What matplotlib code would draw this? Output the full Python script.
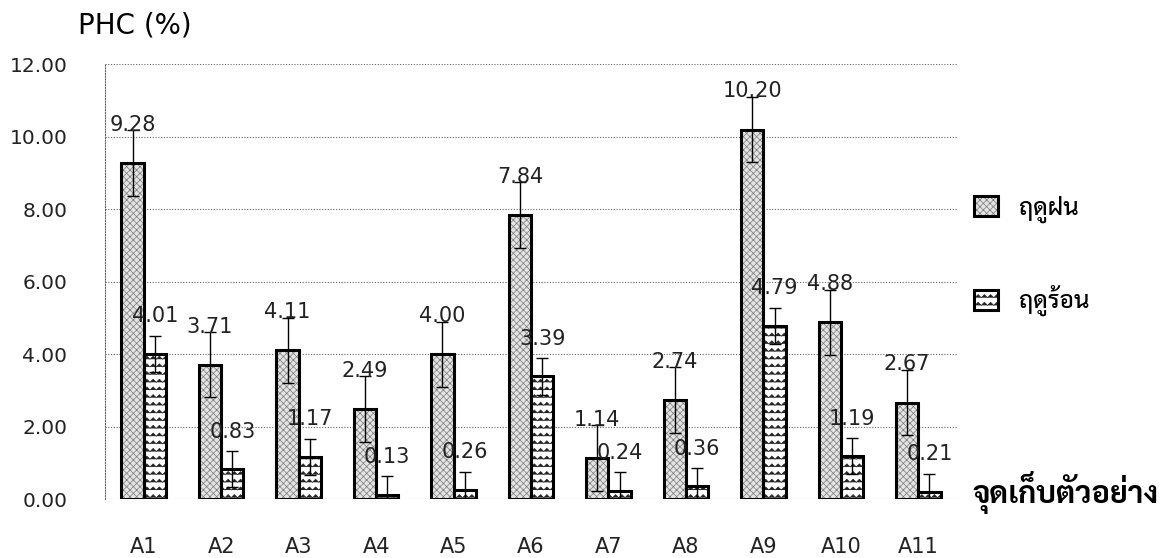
import warnings
import numpy as np
import matplotlib
matplotlib.use('Agg')
import matplotlib.pyplot as plt
from matplotlib import hatch as mhatch
from matplotlib.path import Path
from matplotlib.legend_handler import HandlerTuple

warnings.filterwarnings('ignore')

sites = ['A1', 'A2', 'A3', 'A4', 'A5', 'A6', 'A7', 'A8', 'A9', 'A10', 'A11']
rainy = [9.28, 3.71, 4.11, 2.49, 4.00, 7.84, 1.14, 2.74, 10.20, 4.88, 2.67]
summer = [4.01, 0.83, 1.17, 0.13, 0.26, 3.39, 0.24, 0.36, 4.79, 1.19, 0.21]
rainy_err = [0.9] * 11
summer_err = [0.5] * 11
season_names = ['ฤดูฝน', 'ฤดูร้อน']
yticks = [0, 2, 4, 6, 8, 10, 12]


# wavy hatch ('z'): rows of small zigzags
class WaveHatch(mhatch.HatchPatternBase):
    periods = 16

    def __init__(self, hatch, density):
        self.num_lines = int(hatch.count('z') * density * 2.3)
        self.num_vertices = self.num_lines * (2 * self.periods + 1)

    def set_vertices_and_codes(self, vertices, codes):
        n = self.num_lines
        k = 2 * self.periods + 1
        steps = (np.arange(n) + 0.5) / n
        amp = 0.2 / n
        offs = np.where(np.arange(k) % 2 == 0, -amp, amp)
        v = vertices.reshape(n, k, 2)
        v[:, :, 0] = np.linspace(0, 1, k)
        v[:, :, 1] = steps[:, None] + offs
        c = codes.reshape(n, k)
        c[:, 0] = Path.MOVETO
        c[:, 1:] = Path.LINETO


mhatch._hatch_types.append(WaveHatch)

plt.rcParams['font.family'] = ['DejaVu Sans']
plt.rcParams['hatch.linewidth'] = 0.5

fig = plt.figure(figsize=(11.69, 5.58), dpi=100)
ax = fig.add_axes([0.0898, 0.1052, 0.7289, 0.7796])

x = np.arange(len(sites))
w = 0.287

# hatched fill layer, then a plain black outline on top
r_fill = ax.bar(x - w / 2, rainy, w, color='#e4e4e4', edgecolor='#7a7a7a',
                hatch='xxxxx', linewidth=0, zorder=2)
r_edge = ax.bar(x - w / 2, rainy, w, fill=False, edgecolor='black',
                linewidth=2.2, zorder=3)
s_fill = ax.bar(x + w / 2, summer, w, color='white', edgecolor='#222222',
                hatch='z', linewidth=0, zorder=2)
s_edge = ax.bar(x + w / 2, summer, w, fill=False, edgecolor='black',
                linewidth=2.2, zorder=3)

ax.errorbar(x - w / 2, rainy, yerr=rainy_err, fmt='none', ecolor='black',
            elinewidth=1, capsize=4.3, capthick=1, zorder=4)
ax.errorbar(x + w / 2, summer, yerr=summer_err, fmt='none', ecolor='black',
            elinewidth=1, capsize=4.3, capthick=1, zorder=4)

for xi, v, e in zip(x - w / 2, rainy, rainy_err):
    ax.annotate(f'{v:.2f}', (xi, v + e), xytext=(0, 4), textcoords='offset points',
                ha='center', va='center', fontsize=15, color='#222222', zorder=5)
for xi, v, e in zip(x + w / 2, summer, summer_err):
    ax.annotate(f'{v:.2f}', (xi, v + e), xytext=(0, 14), textcoords='offset points',
                ha='center', va='center', fontsize=15, color='#222222', zorder=5)

ax.set_xlim(-0.5, len(sites) - 0.5)
ax.set_ylim(0, 12)
ax.set_yticks(yticks)
ax.set_yticklabels([f'{t:.2f}' for t in yticks])
ax.set_xticks(x)
ax.set_xticklabels(sites)
ax.tick_params(axis='y', length=0, pad=27, labelsize=14.5, labelcolor='#222222')
ax.tick_params(axis='x', length=0, pad=27, labelsize=15, labelcolor='#222222')
ax.grid(axis='y', linestyle=(0, (1, 1.5)), color='#666666', linewidth=0.8, zorder=0)
ax.set_axisbelow(True)
for side in ['top', 'right', 'bottom']:
    ax.spines[side].set_visible(False)
ax.spines['left'].set_linestyle((0, (1, 1.5)))
ax.spines['left'].set_color('#666666')
ax.spines['left'].set_linewidth(0.8)

fig.text(0.0667, 0.955, 'PHC (%)', fontsize=20, color='black', va='center')
fig.text(0.8315, 0.117, 'จุดเก็บตัวอย่าง', fontsize=22, fontweight='bold',
         family=['Sarabun', 'DejaVu Sans'], va='center')

leg = ax.legend([(r_fill, r_edge), (s_fill, s_edge)], season_names,
                handler_map={tuple: HandlerTuple(ndivide=1, pad=0)},
                loc='upper left', bbox_to_anchor=(0.8225, 0.671),
                bbox_transform=fig.transFigure, frameon=False,
                prop={'family': ['Sarabun', 'DejaVu Sans'], 'size': 17.5, 'weight': 'medium'},
                handlelength=1.0, handleheight=0.9, handletextpad=0.85,
                labelspacing=2.55, borderpad=0)

fig.savefig('out.png', dpi=100)
